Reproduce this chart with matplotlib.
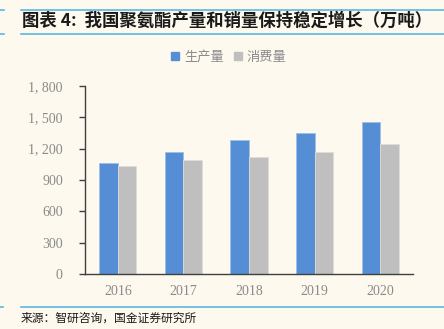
import matplotlib
matplotlib.use("Agg")
import matplotlib.pyplot as plt
import numpy as np
from matplotlib.ticker import FuncFormatter
from matplotlib.lines import Line2D

years = ["2016", "2017", "2018", "2019", "2020"]
production = [1060, 1172, 1280, 1347, 1453]
consumption = [1034, 1092, 1117, 1172, 1245]
series_names = ["生产量", "消费量"]
y_ticks = [0, 300, 600, 900, 1200, 1500, 1800]

title = "图表 4:  我国聚氨酯产量和销量保持稳定增长（万吨）"
source = "来源：智研咨询，国金证券研究所"

bg = "#fdf9ee"
blue = "#558ed5"
grey = "#bfbfbf"
rule = "#5bb8e0"
cjk = ["Noto Sans CJK SC", "DejaVu Sans"]
serif = ["Liberation Serif", "DejaVu Serif"]

W, H = 444, 329
fig = plt.figure(figsize=(W / 100, H / 100), dpi=100, facecolor=bg)

# plot area in pixel coordinates
left, right, top, bottom = 85, 413, 86, 274
ax = fig.add_axes([left / W, 1 - bottom / H, (right - left) / W, (bottom - top) / H])
ax.set_facecolor(bg)

x = np.arange(len(years))
w = 0.285
ax.bar(x - w / 2, production, w, color=blue, edgecolor="#9dbfe8", linewidth=0.6, zorder=2)
ax.bar(x + w / 2, consumption, w, color=grey, edgecolor="#e0ddd6", linewidth=0.6, zorder=2)

ax.set_xlim(-0.5, len(years) - 0.5)
ax.set_ylim(0, 1800)
ax.set_yticks(y_ticks)
ax.yaxis.set_major_formatter(FuncFormatter(lambda v, p: f"{int(v):,}".replace(",", ", ")))
ax.set_xticks(x)
ax.set_xticklabels(years)

for s in ["top", "right"]:
    ax.spines[s].set_visible(False)
for s in ["left", "bottom"]:
    ax.spines[s].set_color("#404040")
    ax.spines[s].set_linewidth(1.0)

ax.tick_params(axis="y", direction="out", length=4, width=1, color="#404040", pad=12,
               labelsize=10, labelcolor="#8a8a8a")
ax.tick_params(axis="x", length=0, pad=8, labelsize=10, labelcolor="#8a8a8a")
for lab in ax.get_yticklabels() + ax.get_xticklabels():
    lab.set_family(serif)

# legend
handles = [plt.Rectangle((0, 0), 1, 1, color=blue), plt.Rectangle((0, 0), 1, 1, color=grey)]
leg = fig.legend(handles, series_names, loc="center", bbox_to_anchor=(229 / W, 1 - 57 / H),
                 ncol=2, frameon=False, prop={"family": cjk, "size": 9.5},
                 handlelength=0.6, handleheight=0.6, handletextpad=0.35, columnspacing=0.8,
                 labelcolor="#8a8a8a")

# header and footer rules
def hline(y, x0, x1):
    fig.add_artist(Line2D([x0 / W, x1 / W], [1 - y / H, 1 - y / H], color=rule, lw=1.2))

hline(10, 21, 444)
hline(34, 21, 444)
hline(307, 21, 444)
hline(10, 0, 4)
hline(34, 0, 4)
hline(307, 0, 3)

fig.text(22 / W, 1 - 21 / H, title, ha="left", va="center", family=cjk,
         fontsize=12.5, fontweight="bold", color="#1a1a1a")
fig.text(21 / W, 1 - 318 / H, source, ha="left", va="center", family=cjk,
         fontsize=8.5, color="#1a1a1a")

fig.savefig("out.png", dpi=100, facecolor=bg)
